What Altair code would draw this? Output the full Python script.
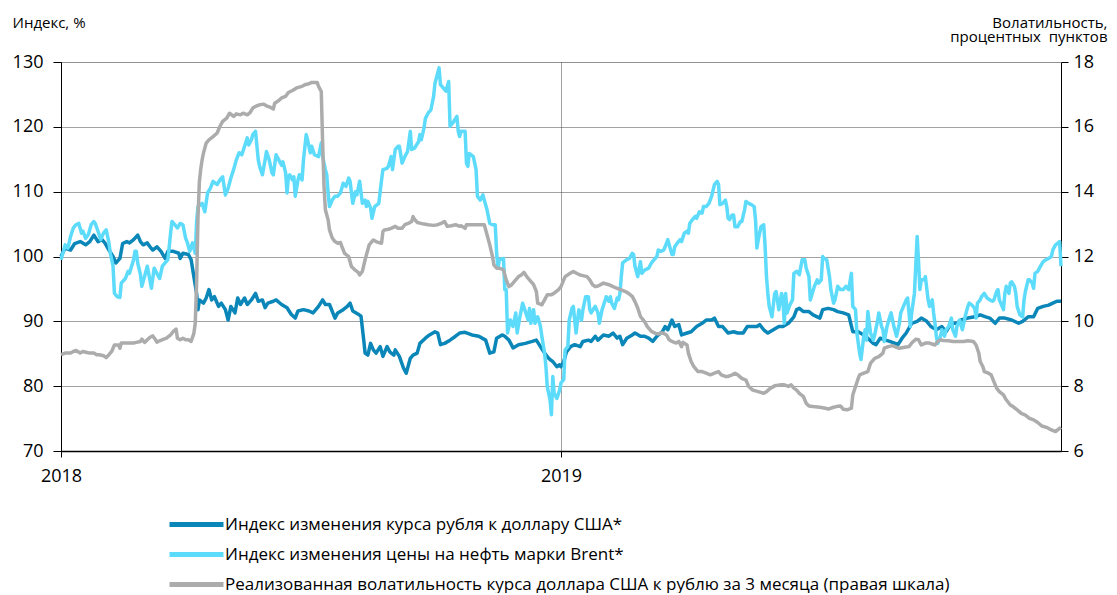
import altair as alt
import pandas as pd

START = pd.Timestamp("2018-01-01")

series_names = [
    "Индекс изменения курса рубля к доллару США*",
    "Индекс изменения цены на нефть марки Brent*",
    "Реализованная волатильность курса доллара США к рублю за 3 месяца (правая шкала)",
]
series_colors = ["#0A87B8", "#5CDBFB", "#ACACAC"]

left_title = "Индекс, %"
right_title = ["Волатильность,", "процентных\u00a0\u00a0пунктов"]
left_ticks = [70, 80, 90, 100, 110, 120, 130]
right_ticks = [6, 8, 10, 12, 14, 16, 18]

# days since 2018-01-01
rub_day = [
    0, 3, 7, 10, 14, 18, 21, 24, 27, 30,
    32, 35, 38, 40, 43, 45, 48, 50, 53, 56,
    58, 60, 63, 65, 67, 70, 73, 76, 78, 82,
    86, 87, 89, 93, 95, 97, 99, 100, 101, 104,
    106, 108, 110, 112, 115, 117, 120, 122, 124, 127,
    129, 131, 134, 136, 139, 142, 144, 147, 149, 151,
    155, 157, 161, 165, 168, 171, 173, 177, 181, 184,
    188, 191, 193, 196, 200, 202, 206, 209, 211, 213,
    217, 219, 221, 222, 224, 226, 228, 230, 233, 235,
    238, 240, 243, 244, 247, 250, 252, 255, 257, 260,
    262, 266, 269, 273, 275, 277, 280, 284, 288, 291,
    295, 300, 305, 310, 313, 316, 318, 322, 324, 327,
    330, 334, 339, 344, 347, 350, 353, 356, 359, 362,
    364, 365, 367, 369, 372, 375, 379, 381, 385, 387,
    390, 392, 396, 400, 403, 406, 408, 410, 413, 417,
    419, 423, 426, 429, 432, 435, 439, 441, 443, 446,
    448, 451, 453, 457, 460, 464, 468, 471, 475, 477,
    480, 483, 487, 491, 494, 498, 501, 504, 508, 510,
    513, 516, 520, 524, 527, 531, 535, 537, 539, 542,
    546, 549, 554, 556, 560, 564, 567, 571, 575, 578,
    582, 586, 589, 593, 595, 598, 602, 605, 609, 611,
    614, 617, 621, 625, 628, 632, 635, 639, 643, 646,
    650, 654, 657, 662, 667, 671, 675, 678, 682, 685,
    689, 694, 699, 702, 706, 710, 713, 717, 721, 724,
    727, 730,
]
rub_val = [
    100.0, 101.3, 101.0, 102.0, 102.3, 101.8, 102.3, 103.3, 102.3, 102.6,
    102.1, 101.0, 100.0, 99.0, 99.7, 102.0, 102.3, 102.1, 102.6, 103.3,
    102.3, 101.8, 102.1, 101.5, 101.0, 101.5, 100.8, 99.7, 100.8, 100.8,
    100.5, 99.7, 100.5, 100.3, 99.5, 96.9, 94.3, 91.8, 93.3, 92.8,
    93.6, 94.9, 93.3, 93.8, 92.3, 92.8, 91.8, 90.2, 92.3, 91.3,
    93.6, 92.6, 93.6, 92.6, 93.3, 94.3, 93.1, 93.3, 92.1, 92.8,
    93.1, 93.3, 92.6, 92.1, 91.1, 90.5, 91.6, 91.8, 91.6, 91.3,
    92.3, 93.3, 92.6, 92.6, 90.5, 91.3, 91.8, 92.3, 92.8, 91.6,
    91.1, 90.8, 87.1, 85.1, 84.8, 86.6, 85.6, 85.1, 86.1, 84.6,
    86.1, 85.3, 84.8, 85.6, 84.6, 82.8, 82.0, 84.3, 84.8, 85.1,
    86.6, 87.4, 87.9, 88.4, 88.2, 86.4, 86.6, 87.1, 87.7, 88.2,
    88.3, 87.9, 87.7, 87.1, 85.1, 85.3, 87.4, 87.9, 87.7, 87.1,
    85.9, 86.4, 86.6, 86.9, 87.1, 86.1, 85.1, 84.3, 83.8, 83.0,
    83.3, 83.0, 83.8, 85.3, 86.1, 86.4, 86.1, 86.9, 87.1, 86.9,
    87.7, 87.1, 87.9, 87.7, 88.2, 87.4, 87.7, 86.4, 87.4, 87.9,
    88.2, 87.7, 87.7, 87.4, 86.9, 87.7, 88.4, 89.2, 88.7, 90.2,
    89.2, 89.5, 87.9, 88.2, 88.4, 89.2, 89.7, 90.2, 90.2, 90.5,
    89.2, 89.2, 88.2, 88.4, 88.2, 88.2, 89.2, 89.2, 89.2, 89.5,
    88.7, 88.2, 88.7, 89.2, 89.2, 89.7, 90.7, 91.8, 92.0, 91.5,
    91.5, 91.0, 90.5, 91.8, 92.0, 91.8, 91.5, 91.3, 91.0, 88.4,
    88.4, 87.9, 87.4, 86.6, 86.4, 87.4, 87.1, 86.9, 86.6, 86.4,
    87.4, 88.2, 89.7, 90.0, 90.5, 90.0, 89.2, 88.7, 89.2, 88.4,
    89.7, 89.7, 90.2, 90.5, 90.7, 91.0, 90.7, 90.5, 89.7, 90.5,
    90.5, 90.2, 89.7, 90.0, 90.7, 90.7, 92.0, 92.3, 92.5, 92.8,
    93.1, 93.1,
]

brent_day = [
    0, 2, 3, 5, 7, 9, 11, 13, 15, 16,
    18, 20, 22, 24, 25, 27, 29, 31, 33, 35,
    36, 38, 39, 41, 43, 44, 47, 49, 50, 53,
    54, 55, 56, 58, 59, 61, 63, 64, 66, 68,
    70, 72, 74, 76, 78, 79, 80, 81, 83, 85,
    87, 89, 91, 92, 94, 96, 98, 99, 100, 103,
    105, 107, 109, 111, 114, 116, 118, 120, 122, 124,
    126, 128, 130, 132, 134, 136, 137, 139, 140, 142,
    144, 145, 147, 149, 150, 152, 154, 155, 157, 159,
    161, 162, 164, 165, 166, 167, 169, 170, 171, 173,
    174, 176, 177, 179, 180, 182, 183, 185,
    188, 190, 191, 193, 194, 195, 196, 198, 200, 202,
    204, 206, 208, 210, 211, 213, 215, 216, 218, 220,
    222, 223, 224, 226, 227, 229, 232, 234, 235, 238,
    239, 241, 242, 244, 246, 247, 249, 251, 253, 255,
    256, 258, 261, 262, 263, 265, 266, 268, 270, 272,
    273, 275, 276, 277, 279, 281, 283, 284, 286, 289,
    290, 291, 292, 295, 296, 297, 298, 301, 303, 304,
    306, 308, 309, 311, 313, 315, 317, 318, 319, 320,
    323, 324, 325, 326, 328, 330, 332, 333, 335, 337,
    339, 341, 342, 343, 345, 346, 348, 350, 351, 353,
    354, 355, 357, 358, 359, 360, 362, 364,
    365, 367, 368, 370, 371, 373, 374, 375, 376, 378,
    380, 381, 383, 385, 386, 387, 389, 390, 392, 393,
    395, 397, 398, 400, 401, 402, 404, 406, 407, 408,
    409, 410, 413, 415, 417, 418, 419, 421, 423, 424,
    426, 429, 431, 433, 435, 436, 438, 440, 441, 443,
    444, 446, 447, 448, 450, 452, 453, 455, 457, 458,
    459, 461, 463, 464, 466, 468, 469, 471, 473, 475,
    477, 479, 480, 481, 483, 485, 486, 487, 488, 490,
    491, 492, 494, 496, 497, 499, 500, 502, 504, 506,
    507, 508, 509, 511, 513, 514, 515, 516, 517, 519,
    521, 522, 523, 524, 526, 527, 528, 529, 530, 532,
    534, 535, 537, 539, 541, 543, 544, 546, 547,
    550, 552, 553, 555, 556, 557, 559, 561, 562, 564,
    565, 567, 569, 571, 573, 575, 577, 578, 580, 581,
    583, 584, 586, 587, 588, 589, 591, 593, 594, 596,
    597, 599, 600, 601, 603, 605, 606, 608, 610, 612,
    613, 615, 617, 618, 620, 621, 623, 625, 626, 627,
    628, 630, 631, 633, 634, 636, 637, 638, 639, 640,
    642, 643, 645, 646, 648, 650, 651, 653, 654, 656,
    658, 660, 662, 663, 665, 667, 668, 669, 671, 672,
    674, 676, 678, 680, 681, 683, 684, 685, 687, 688,
    689, 690, 692, 693, 694, 696, 697, 698, 700, 702,
    703, 704, 706, 707, 709, 710, 711, 713, 715, 717,
    719, 721, 723, 724, 726, 728, 729, 730,
]
brent_val = [
    99.5, 101.0, 101.8, 101.3, 103.1, 104.4, 104.9, 105.1, 103.6, 103.9,
    102.8, 103.4, 104.9, 105.4, 105.1, 103.9, 102.6, 103.6, 104.1, 102.1,
    100.5, 98.5, 94.3, 93.8, 93.7, 95.9, 96.6, 97.7, 97.4, 99.5,
    100.8, 100.8, 99.0, 97.2, 95.4, 96.9, 98.5, 97.4, 95.1, 98.2,
    97.4, 96.6, 98.5, 99.0, 99.5, 101.5, 103.6, 105.4, 104.9, 104.4,
    105.1, 104.9, 102.8, 102.3, 100.8, 102.1, 100.5, 105.4, 107.7, 108.2,
    106.9, 109.8, 110.5, 111.6, 111.1, 111.8, 112.3, 109.5, 110.5, 112.1,
    113.4, 114.9, 116.0, 115.7, 117.0, 118.3, 117.2, 118.0, 118.8, 119.3,
    114.9, 113.9, 112.6, 114.9, 116.2, 114.9, 112.9, 112.6, 115.7, 114.9,
    114.1, 114.6, 112.9, 109.8, 112.3, 112.6, 111.8, 112.3, 109.3, 111.8,
    112.6, 111.8, 114.9, 118.8, 118.0, 116.0, 117.0, 115.7,
    115.4, 117.5, 115.4, 113.4, 112.6, 109.8, 107.7, 108.7, 109.3, 109.3,
    109.8, 111.3, 110.8, 112.1, 111.6, 108.2, 110.0, 109.5, 111.6, 108.2,
    108.7, 107.7, 108.5, 107.5, 105.9, 107.7, 108.2, 111.8, 113.4, 113.6,
    113.9, 115.4, 113.4, 116.5, 117.0, 117.0, 114.4, 115.4, 116.2, 119.3,
    116.5, 116.7, 117.7, 118.8, 118.0, 119.8, 121.3, 122.1, 122.6, 124.7,
    126.7, 128.3, 129.1, 126.5, 126.0, 125.5, 127.0, 120.1, 120.6, 121.6,
    119.3, 118.5, 119.3, 119.3, 114.4, 113.9, 115.9, 115.4, 113.4, 109.3,
    108.7, 109.5, 108.7, 107.2, 105.1, 104.9, 104.9, 100.5, 98.2, 99.5,
    99.7, 94.9, 94.9, 88.2, 90.2, 89.2, 91.3, 88.2, 90.7, 92.8,
    91.5, 90.2, 92.0, 89.7, 91.8, 89.7, 90.7, 89.2, 87.7, 85.1,
    83.0, 79.9, 77.9, 75.6, 81.5, 78.9, 78.1, 79.4,
    80.5, 81.0, 85.6, 86.1, 90.2, 92.0, 92.3, 90.2, 88.2, 91.8,
    90.2, 91.8, 93.8, 93.8, 91.8, 91.3, 92.0, 92.3, 91.3, 89.7,
    91.8, 93.1, 93.8, 93.1, 93.8, 92.8, 92.0, 93.6, 93.3, 94.3,
    96.9, 99.0, 99.5, 99.7, 100.5, 100.3, 98.5, 96.9, 99.2, 97.4,
    97.9, 98.2, 99.0, 99.5, 100.0, 101.0, 100.8, 101.0, 101.5, 102.6,
    101.8, 100.3, 100.3, 101.5, 102.1, 102.6, 102.3, 103.6, 103.9, 103.6,
    105.1, 105.7, 106.2, 105.9, 106.9, 106.7, 107.7, 107.7, 108.2, 109.3,
    111.1, 111.6, 111.1, 108.0, 108.2, 108.7, 107.7, 105.9, 105.7, 106.4,
    106.4, 104.6, 104.6, 105.4, 105.4, 107.2, 108.5, 108.2, 108.0, 107.7,
    105.7, 101.3, 102.6, 104.6, 104.9, 101.5, 96.9, 94.3, 92.3, 90.7,
    94.3, 94.6, 93.3, 91.8, 94.3, 93.3, 89.7, 94.3, 91.3, 92.5,
    93.3, 97.4, 97.7, 97.2, 99.5, 99.5, 98.2, 96.9, 93.3,
    95.4, 96.4, 95.9, 96.4, 100.0, 99.7, 99.5, 96.9, 94.9, 92.8,
    93.3, 95.4, 94.9, 94.9, 95.4, 94.9, 97.4, 92.3, 91.8, 88.2,
    85.1, 84.1, 87.7, 88.7, 87.1, 91.5, 88.2, 87.1, 87.9, 90.0,
    91.3, 89.2, 88.7, 86.9, 89.2, 90.7, 91.3, 89.2, 87.7, 89.7,
    91.3, 92.3, 93.3, 93.6, 89.2, 91.3, 94.3, 103.1, 99.2, 94.9,
    96.4, 96.4, 96.9, 93.3, 92.3, 93.3, 91.3, 89.7, 87.7, 86.6,
    87.7, 88.7, 87.7, 88.7, 89.2, 90.5, 88.7, 87.7, 89.2, 90.2,
    88.7, 90.7, 92.3, 92.8, 92.5, 92.0, 90.5, 92.8, 93.3, 93.8,
    94.3, 93.6, 93.3, 93.1, 93.3, 94.6, 94.9, 93.3, 92.3, 91.8,
    94.3, 95.4, 94.3, 95.9, 96.1, 95.4, 94.3, 92.3, 91.0, 90.7,
    93.3, 94.6, 96.4, 96.4, 95.9, 95.1, 97.4, 97.7, 98.5, 99.2,
    99.5, 99.7, 100.0, 101.0, 101.8, 102.1, 102.3, 98.5,
]

vol_day = [
    0, 3, 7, 9, 11, 14, 16, 19, 21, 24,
    26, 28, 31, 33, 35, 37, 39, 42, 43, 44,
    47, 49, 53, 55, 58, 59, 61, 63, 65, 67,
    69, 70, 72, 75, 77, 80, 82, 84, 85, 87,
    89, 91, 93, 95, 97, 98, 99, 100, 101, 102,
    103, 104, 106, 108, 111, 114, 116, 118, 121, 123,
    126, 128, 131, 133, 136, 138, 140, 143, 145, 148,
    150, 153, 155, 156, 159, 161, 164, 166, 169, 172,
    176, 178, 181, 183, 187, 188, 190, 191, 192, 193,
    195, 196, 198, 200, 202, 204, 205, 207, 210, 212,
    215, 217, 218, 220, 222, 224, 225, 228, 230, 232,
    234, 235, 236, 239, 241, 244, 246, 249, 251, 254,
    256, 257, 258, 260, 262, 265, 268, 272, 275, 278,
    280, 282, 285, 288, 291, 292, 295, 296, 300, 305,
    309, 311, 313, 315, 316, 318, 320, 323, 325, 327,
    329, 331, 334, 336, 338, 340, 342, 345, 347, 348,
    351, 353, 355, 358, 360, 363, 365, 367,
    368, 372, 374, 376, 379, 381, 384, 386, 388, 390,
    392, 396, 400, 403, 406, 409, 412, 414, 417, 419,
    421, 423, 426, 428, 431, 434, 436, 439, 442, 444,
    446, 449, 451, 453, 454, 457, 458, 460, 462, 465,
    468, 471, 474, 477, 480, 482, 485, 487, 490, 492,
    494, 497, 500, 502, 505, 509, 513, 515, 518, 521,
    525, 528, 531, 533, 535, 537, 539, 542, 544, 546,
    549,
    554, 558, 560, 564, 566, 569, 571, 574, 577, 578,
    580, 582, 583, 586, 589, 591, 594, 597, 600, 601,
    604, 607, 610, 612, 616, 619, 621, 624, 626, 628,
    631, 634, 638, 640, 642, 644, 648, 651, 655, 659,
    662, 666, 668, 670, 671, 673, 674, 677, 679, 681,
    683, 685, 688, 690, 693, 695, 698, 701, 704, 707,
    710, 713, 716, 720, 723, 726, 728, 730,
]
vol_val = [
    8.97, 9.02, 9.02, 9.07, 9.10, 9.02, 9.07, 9.04, 9.02, 9.02,
    8.97, 8.97, 8.94, 8.88, 8.97, 9.07, 9.27, 9.27, 9.17, 9.33,
    9.33, 9.33, 9.33, 9.35, 9.38, 9.45, 9.35, 9.43, 9.51, 9.55,
    9.43, 9.36, 9.40, 9.45, 9.48, 9.58, 9.69, 9.76, 9.48, 9.43,
    9.48, 9.43, 9.43, 9.38, 9.63, 9.94, 11.2, 13.2, 14.3, 14.7,
    14.98, 15.19, 15.50, 15.60, 15.70, 15.81, 16.01, 16.17, 16.27, 16.42,
    16.32, 16.40, 16.37, 16.42, 16.37, 16.44, 16.58, 16.65, 16.68, 16.70,
    16.65, 16.60, 16.55, 16.73, 16.81, 16.89, 16.94, 17.06, 17.12, 17.20,
    17.25, 17.30, 17.33, 17.37, 17.37, 17.25, 17.09, 15.50, 14.16, 13.44,
    13.13, 12.82, 12.57, 12.46, 12.41, 12.43, 12.31, 12.10, 12.00, 11.69,
    11.57, 11.51, 11.43, 11.54, 11.90, 12.21, 12.36, 12.51, 12.46, 12.43,
    12.41, 12.77, 12.82, 12.84, 12.87, 12.93, 12.87, 12.87, 12.98, 13.03,
    13.08, 13.23, 13.15, 13.05, 13.03, 13.00, 12.98, 12.96, 12.98, 13.03,
    13.08, 12.93, 12.95, 12.98, 12.93, 12.95, 12.87, 12.98, 12.98, 12.98,
    12.98, 12.67, 12.36, 12.00, 11.74, 11.64, 11.64, 11.59, 11.28, 11.07,
    11.13, 11.23, 11.38, 11.43, 11.51, 11.38, 11.28, 11.13, 10.92, 10.56,
    10.51, 10.66, 10.82, 10.82, 10.87, 10.97, 11.07, 11.28,
    11.38, 11.49, 11.54, 11.49, 11.43, 11.41, 11.38, 11.28, 11.13, 11.07,
    11.09, 11.18, 11.13, 11.07, 11.02, 10.97, 10.92, 10.87, 10.77, 10.61,
    10.41, 10.15, 9.99, 9.84, 9.69, 9.63, 9.61, 9.65, 9.58, 9.43,
    9.38, 9.33, 9.38, 9.22, 9.35, 9.27, 9.02, 8.76, 8.60, 8.45,
    8.45, 8.40, 8.35, 8.40, 8.45, 8.35, 8.30, 8.30, 8.35, 8.40,
    8.35, 8.24, 8.19, 7.99, 7.88, 7.83, 7.78, 7.83, 7.94, 8.01,
    8.04, 8.04, 7.99, 8.04, 7.94, 7.88, 7.78, 7.68, 7.47, 7.39,
    7.37,
    7.35, 7.32, 7.29, 7.35, 7.37, 7.39, 7.29, 7.27, 7.32, 7.73,
    7.99, 8.24, 8.35, 8.40, 8.45, 8.71, 8.86, 8.91, 9.02, 9.17,
    9.22, 9.25, 9.20, 9.17, 9.20, 9.22, 9.33, 9.45, 9.43, 9.27,
    9.33, 9.33, 9.27, 9.38, 9.43, 9.41, 9.40, 9.38, 9.38, 9.38,
    9.40, 9.38, 9.27, 9.02, 8.76, 8.60, 8.45, 8.40, 8.35, 8.14,
    7.94, 7.83, 7.73, 7.58, 7.42, 7.37, 7.27, 7.16, 7.11, 7.01,
    6.96, 6.88, 6.77, 6.72, 6.65, 6.60, 6.67, 6.73,
]


def frame(days, vals, name):
    n = min(len(days), len(vals))
    return pd.DataFrame({
        "date": START + pd.to_timedelta(days[:n], unit="D"),
        "value": vals[:n],
        "series": name,
    })


left_df = pd.concat([frame(rub_day, rub_val, series_names[0]),
                     frame(brent_day, brent_val, series_names[1])])
right_df = frame(vol_day, vol_val, series_names[2])

FONT = "Open Sans"
d2018 = alt.DateTime(year=2018, month=1, date=1)
d2019 = alt.DateTime(year=2019, month=1, date=1)
d2020 = alt.DateTime(year=2020, month=1, date=1)

x_enc = alt.X(
    "date:T",
    scale=alt.Scale(domain=[d2018, d2020]),
    axis=alt.Axis(values=[d2018, d2019], format="%Y", title=None,
                  labelFontSize=18, labelFont=FONT, labelColor="black",
                  labelFlush=False, labelPadding=10, tickSize=6,
                  tickColor="black", domainColor="black", domainWidth=1.5,
                  grid=True, gridDash=[1, 1], gridColor="#444"),
)

color_enc = alt.Color(
    "series:N",
    scale=alt.Scale(domain=series_names, range=series_colors),
    legend=alt.Legend(orient="none", legendX=123, legendY=450, title=None,
                      direction="vertical",
                      symbolType="M-2.7,0H2.7", symbolSize=400,
                      symbolStrokeWidth=5, labelFontSize=17, labelFont=FONT,
                      labelColor="black", labelOffset=16, rowPadding=7,
                      padding=0, labelLimit=1000),
)

left = alt.Chart(left_df).mark_line(strokeWidth=3.5, strokeJoin="round").encode(
    x=x_enc,
    y=alt.Y("value:Q",
            scale=alt.Scale(domain=[70, 130], nice=False, zero=False),
            axis=alt.Axis(values=left_ticks, title=left_title, titleAngle=0,
                          titleAlign="left", titleBaseline="alphabetic",
                          titleX=-49, titleY=-35, titleFont=FONT,
                          titleFontSize=15, titleFontWeight="normal",
                          titleColor="black",
                          labelFontSize=18, labelFont=FONT, labelColor="black",
                          labelPadding=10, tickSize=8, tickColor="black",
                          domainColor="black", grid=True, gridDash=[1, 1],
                          gridColor="#444")),
    color=color_enc,
    order=alt.Order("date:T"),
)

right = alt.Chart(right_df).mark_line(strokeWidth=3.5, strokeJoin="round").encode(
    x=x_enc,
    y=alt.Y("value:Q",
            scale=alt.Scale(domain=[6, 18], nice=False, zero=False),
            axis=alt.Axis(orient="right", values=right_ticks, title=right_title,
                          titleAngle=0, titleAlign="right",
                          titleBaseline="alphabetic", titleX=46, titleY=-35,
                          titleLineHeight=14, titleFont=FONT, titleFontSize=15,
                          titleFontWeight="normal", titleColor="black",
                          labelFontSize=18, labelFont=FONT, labelColor="black",
                          labelPadding=5, tickSize=7, tickColor="black",
                          domainColor="black", grid=False)),
    color=color_enc,
    order=alt.Order("date:T"),
)

chart = (
    alt.layer(left, right)
    .resolve_scale(y="independent")
    .properties(width=1000, height=389,
                autosize=alt.AutoSizeParams(type="none"),
                padding={"left": 53, "top": 54, "right": 48, "bottom": 142})
    .configure_view(stroke="black", strokeWidth=1)
    .configure(font=FONT)
)

chart.save("out.html", embed_options={"renderer": "svg", "actions": False})
